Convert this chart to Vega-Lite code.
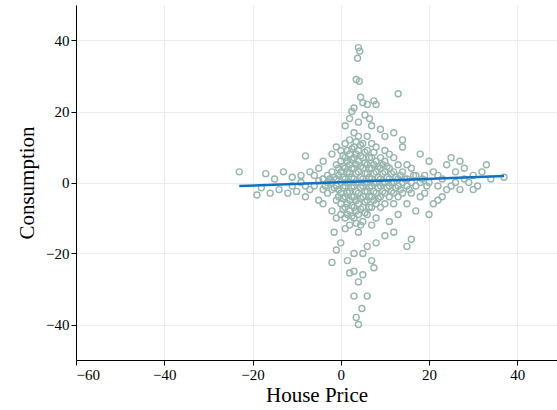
{"$schema":"https://vega.github.io/schema/vega-lite/v6.json","autosize":{"type":"fit","contains":"padding"},"width":557,"height":410,"padding":{"left":16,"top":5,"right":0,"bottom":5},
"config":{"font":"Liberation Serif","view":{"stroke":null},"axis":{"labelFont":"Liberation Serif","titleFont":"Liberation Serif","labelFontSize":15,"titleFontSize":21,"titleFontWeight":"normal","labelColor":"black","titleColor":"black","domainColor":"black","tickColor":"black","gridColor":"#ebebeb"}},
"layer":[
{"data":{"values":[
{"x":4,"y":38},{"x":4.3,"y":37},{"x":3.8,"y":35},{"x":3.5,"y":29},{"x":4.2,"y":28.5},{"x":4.5,"y":24},{"x":5,"y":22.5},{"x":3,"y":21},{"x":2.5,"y":20},{"x":6,"y":22},{"x":7.5,"y":23},{"x":8,"y":22},{"x":13,"y":25},{"x":2,"y":18},{"x":4,"y":17},{"x":5.5,"y":19},{"x":6.5,"y":18},{"x":7,"y":16},{"x":9,"y":15},{"x":1,"y":16},{"x":3,"y":14},{"x":10,"y":13},{"x":12,"y":14},{"x":14,"y":12},
{"x":4,"y":-40},{"x":3.5,"y":-38},{"x":4.8,"y":-35.5},{"x":3,"y":-32},{"x":6,"y":-32},{"x":4,"y":-28},{"x":5,"y":-26},{"x":3,"y":-25},{"x":2,"y":-25.5},{"x":7.5,"y":-24},{"x":1.5,"y":-22},{"x":-2,"y":-22.5},{"x":-1,"y":-19},{"x":0,"y":-17},{"x":3,"y":-20},{"x":5,"y":-20},{"x":6,"y":-18},{"x":8,"y":-17},{"x":10,"y":-15},{"x":15,"y":-18},{"x":12,"y":-14},{"x":-1.5,"y":-14},{"x":1,"y":-13},{"x":7,"y":-22},
{"x":-23,"y":3},{"x":-19,"y":-3.5},{"x":-18,"y":-1.5},{"x":-17,"y":2.5},{"x":-16,"y":-3},{"x":-15,"y":1},{"x":-14,"y":-2},{"x":-13,"y":3},{"x":-12,"y":-3},{"x":-11,"y":1.5},{"x":-10,"y":-2.5},{"x":-9,"y":2},{"x":-8,"y":7.5},{"x":-8,"y":-4},{"x":-7,"y":3},{"x":-6,"y":-1},{"x":-5,"y":4},{"x":-5,"y":-5},{"x":-4,"y":6},{"x":-4,"y":-6},{"x":-3,"y":2},{"x":-3,"y":-3},{"x":-2,"y":8},{"x":-2,"y":-8},{"x":-1,"y":5},{"x":-1,"y":-5},{"x":-1,"y":10},{"x":-1,"y":-10},
{"x":37,"y":1.5},{"x":33,"y":5},{"x":32,"y":3},{"x":31,"y":-1},{"x":30,"y":2},{"x":29,"y":0},{"x":28,"y":4},{"x":27,"y":-2},{"x":26,"y":3},{"x":25,"y":-1},{"x":24,"y":5},{"x":23,"y":-4},{"x":22,"y":2},{"x":21,"y":-6},{"x":20,"y":6},{"x":19,"y":-3},{"x":18,"y":8},{"x":17,"y":-8},{"x":16,"y":4},{"x":15,"y":-6},{"x":14,"y":10},{"x":13,"y":-9},{"x":12,"y":7},{"x":11,"y":-11},{"x":10,"y":9},{"x":9,"y":-7},{"x":16,"y":-16},{"x":25,"y":7},{"x":30,"y":-2},{"x":34,"y":1},{"x":27,"y":6},{"x":22,"y":-5},{"x":20,"y":-9},
{"x":0,"y":0},{"x":0,"y":3},{"x":0,"y":-3},{"x":0,"y":6},{"x":0,"y":-6},{"x":0,"y":9},{"x":0,"y":-9},{"x":1,"y":1},{"x":1,"y":-1},{"x":1,"y":4},{"x":1,"y":-4},{"x":1,"y":7},{"x":1,"y":-7},{"x":1,"y":11},{"x":1,"y":-10},{"x":2,"y":0},{"x":2,"y":2.5},{"x":2,"y":-2.5},{"x":2,"y":5},{"x":2,"y":-5},{"x":2,"y":8},{"x":2,"y":-8},{"x":2,"y":12},{"x":2,"y":-12},{"x":3,"y":1},{"x":3,"y":-1},{"x":3,"y":4},{"x":3,"y":-4},{"x":3,"y":7},{"x":3,"y":-7},{"x":3,"y":10},{"x":3,"y":-10},{"x":4,"y":0},{"x":4,"y":3},{"x":4,"y":-3},{"x":4,"y":6},{"x":4,"y":-6},{"x":4,"y":9},{"x":4,"y":-9},{"x":4,"y":13},{"x":4,"y":-14},{"x":5,"y":1},{"x":5,"y":-1},{"x":5,"y":4},{"x":5,"y":-4},{"x":5,"y":7},{"x":5,"y":-7},{"x":5,"y":11},{"x":5,"y":-11},{"x":6,"y":0},{"x":6,"y":2.5},{"x":6,"y":-2.5},{"x":6,"y":5},{"x":6,"y":-5},{"x":6,"y":9},{"x":6,"y":-9},{"x":6,"y":13},{"x":7,"y":1},{"x":7,"y":-1},{"x":7,"y":4},{"x":7,"y":-4},{"x":7,"y":7},{"x":7,"y":-7},{"x":7,"y":11},{"x":7,"y":-12},{"x":8,"y":0},{"x":8,"y":3},{"x":8,"y":-3},{"x":8,"y":6},{"x":8,"y":-6},{"x":8,"y":10},{"x":8,"y":-10},{"x":9,"y":1},{"x":9,"y":-1},{"x":9,"y":4},{"x":9,"y":-4},{"x":9,"y":7},{"x":10,"y":0},{"x":10,"y":3},{"x":10,"y":-3},{"x":10,"y":6},{"x":10,"y":-6},{"x":11,"y":1},{"x":11,"y":-1},{"x":11,"y":4},{"x":11,"y":-4},{"x":11,"y":8},{"x":12,"y":0},{"x":12,"y":3},{"x":12,"y":-3},{"x":12,"y":-6},{"x":13,"y":1},{"x":13,"y":-1},{"x":13,"y":5},{"x":13,"y":-4},{"x":14,"y":0},{"x":14,"y":3},{"x":14,"y":-3},{"x":15,"y":1},{"x":15,"y":-1},{"x":15,"y":5},{"x":16,"y":0},{"x":16,"y":-3},{"x":17,"y":2},{"x":17,"y":-1},{"x":18,"y":0},{"x":18,"y":-4},{"x":19,"y":2},{"x":20,"y":0},{"x":21,"y":3},{"x":22,"y":-1},{"x":23,"y":1},{"x":24,"y":-2},{"x":26,"y":0},{"x":28,"y":1},
{"x":-1,"y":1},{"x":-1,"y":-1},{"x":-2,"y":3},{"x":-2,"y":-2},{"x":-2,"y":0},{"x":-3,"y":0},{"x":-4,"y":1},{"x":-4,"y":-2},{"x":-6,"y":2},{"x":-7,"y":-2},{"x":-9,"y":0},{"x":-11,"y":-1},
{"x":0.5,"y":1.5},{"x":0.5,"y":-1.5},{"x":0.5,"y":4.5},{"x":0.5,"y":-4.5},{"x":0.5,"y":7.5},{"x":0.5,"y":-7.5},{"x":1.5,"y":0},{"x":1.5,"y":3},{"x":1.5,"y":-3},{"x":1.5,"y":6},{"x":1.5,"y":-6},{"x":1.5,"y":9},{"x":1.5,"y":-9},{"x":2.5,"y":1.5},{"x":2.5,"y":-1.5},{"x":2.5,"y":4},{"x":2.5,"y":-4},{"x":2.5,"y":6.5},{"x":2.5,"y":-6.5},{"x":2.5,"y":9.5},{"x":2.5,"y":-9.5},{"x":3.5,"y":0},{"x":3.5,"y":2.5},{"x":3.5,"y":-2.5},{"x":3.5,"y":5},{"x":3.5,"y":-5},{"x":3.5,"y":8},{"x":3.5,"y":-8},{"x":3.5,"y":11.5},{"x":3.5,"y":-11.5},{"x":4.5,"y":1.5},{"x":4.5,"y":-1.5},{"x":4.5,"y":4.5},{"x":4.5,"y":-4.5},{"x":4.5,"y":7.5},{"x":4.5,"y":-7.5},{"x":4.5,"y":10.5},{"x":4.5,"y":-12},{"x":5.5,"y":0},{"x":5.5,"y":2.5},{"x":5.5,"y":-2.5},{"x":5.5,"y":5.5},{"x":5.5,"y":-5.5},{"x":5.5,"y":8.5},{"x":5.5,"y":-8.5},{"x":6.5,"y":1.5},{"x":6.5,"y":-1.5},{"x":6.5,"y":4},{"x":6.5,"y":-4},{"x":6.5,"y":7},{"x":6.5,"y":-7},{"x":7.5,"y":0},{"x":7.5,"y":2.5},{"x":7.5,"y":-2.5},{"x":7.5,"y":5},{"x":7.5,"y":-5},{"x":7.5,"y":8.5},{"x":8.5,"y":1.5},{"x":8.5,"y":-1.5},{"x":8.5,"y":4.5},{"x":8.5,"y":-4.5},{"x":9.5,"y":0},{"x":9.5,"y":2.5},{"x":9.5,"y":-2.5},{"x":9.5,"y":5},{"x":10.5,"y":1.5},{"x":10.5,"y":-1.5},{"x":10.5,"y":4.5},{"x":11.5,"y":0},{"x":11.5,"y":2.5},{"x":11.5,"y":-2.5},{"x":12.5,"y":1.5},{"x":12.5,"y":-1.5},{"x":13.5,"y":2},{"x":13.5,"y":-2},{"x":14.5,"y":1},{"x":15.5,"y":-2},{"x":16.5,"y":2},{"x":18.5,"y":1},{"x":19.5,"y":-1},{"x":-0.5,"y":2},{"x":-0.5,"y":-2},{"x":-0.5,"y":4},{"x":-0.5,"y":-4},{"x":-1.5,"y":1.5},{"x":-1.5,"y":-1.5},{"x":-2.5,"y":1},{"x":-3.5,"y":-1},{"x":-5,"y":0.5},{"x":-8,"y":-1}
]},"mark":{"type":"point","filled":false,"size":36,"strokeWidth":1.4,"color":"#97b5ae","opacity":1},
"encoding":{"x":{"field":"x","type":"quantitative","title":"House Price","scale":{"domain":[-60,49],"nice":false},"axis":{"values":[-60,-40,-20,0,20,40],"grid":true,"tickSize":5,"labelFont":"Liberation Serif","titlePadding":2}},
"y":{"field":"y","type":"quantitative","title":"Consumption","scale":{"domain":[-50,50],"nice":false},"axis":{"values":[-40,-20,0,20,40],"grid":true,"tickSize":5,"labelFont":"Liberation Serif","titlePadding":8}}}},
{"data":{"values":[{"x":-23,"y":-1},{"x":37,"y":1.8}]},"mark":{"type":"line","color":"#0a73c4","strokeWidth":2.5},
"encoding":{"x":{"field":"x","type":"quantitative"},"y":{"field":"y","type":"quantitative"}}}
]}
